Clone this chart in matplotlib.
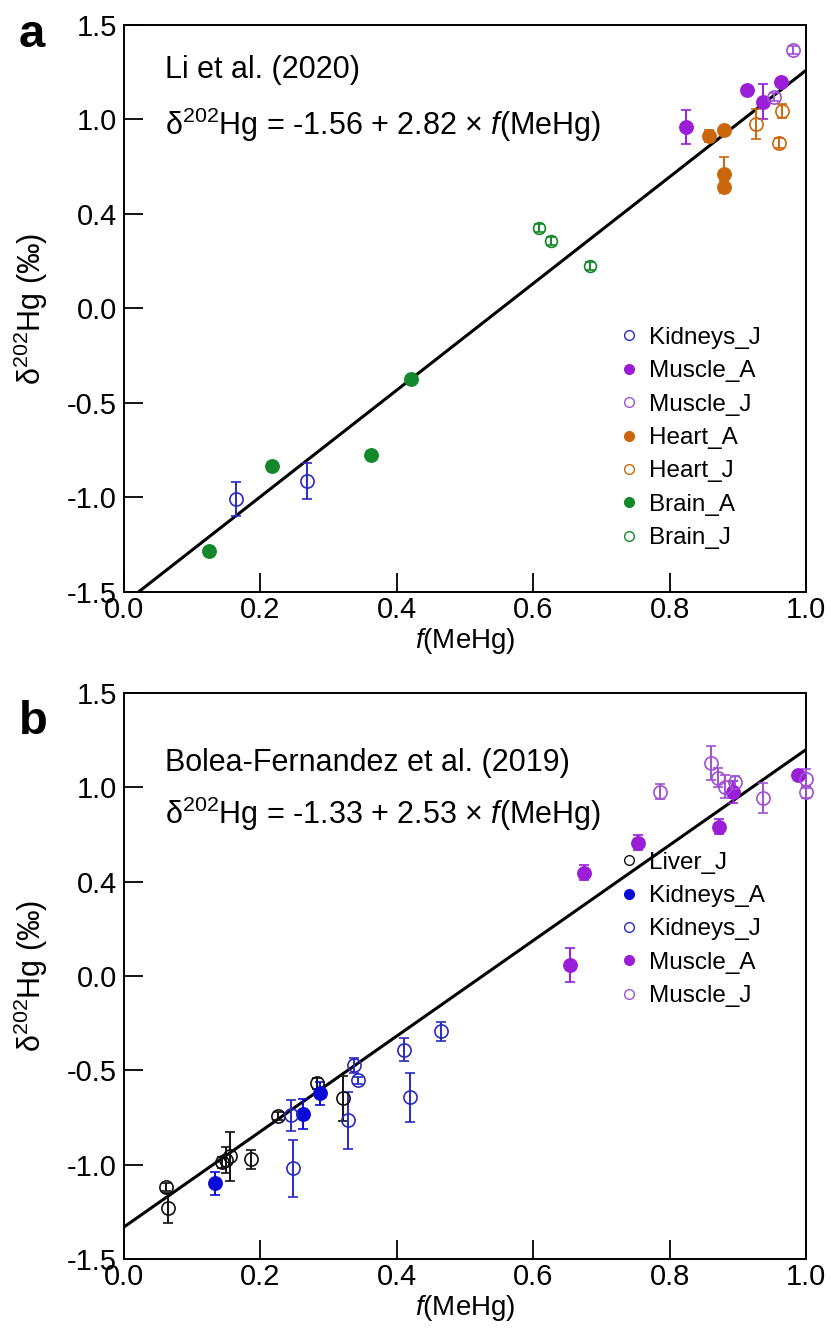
import numpy as np
import matplotlib
matplotlib.use('Agg')
import matplotlib.pyplot as plt
from matplotlib.lines import Line2D

plt.rcParams['font.family'] = ['Liberation Sans', 'DejaVu Sans']
plt.rcParams['mathtext.fontset'] = 'custom'
plt.rcParams['mathtext.rm'] = 'Liberation Sans'
plt.rcParams['mathtext.it'] = 'Liberation Sans:italic'

# y tick labels as printed on the figure
ytick_pos = [-1.5, -1.0, -0.5, 0.0, 0.5, 1.0, 1.5]
ytick_labels = ['-1.5', '-1.0', '-0.5', '0.0', '0.4', '1.0', '1.5']
xtick_pos = [0.0, 0.2, 0.4, 0.6, 0.8, 1.0]

# ---- panel a: Li et al. (2020) ----
fit_a = (-1.56, 2.82)

kidj_a_x = [0.164, 0.268]
kidj_a_y = [-1.008, -0.913]
kidj_a_e = [0.09, 0.093]

musa_a_x = [0.824, 0.913, 0.937, 0.963]
musa_a_y = [0.960, 1.156, 1.093, 1.198]
musa_a_e = [0.09, 0.0, 0.093, 0.0]

musj_a_x = [0.953, 0.981]
musj_a_y = [1.119, 1.368]
musj_a_e = [0.02, 0.02]

hearta_x = [0.858, 0.880, 0.880, 0.880]
hearta_y = [0.913, 0.944, 0.712, 0.643]
hearta_e = [0.03, 0.02, 0.09, 0.03]

heartj_x = [0.927, 0.961, 0.965]
heartj_y = [0.976, 0.876, 1.045]
heartj_e = [0.08, 0.025, 0.035]

braina_x = [0.125, 0.217, 0.362, 0.421]
braina_y = [-1.283, -0.833, -0.775, -0.373]
braina_e = [0.02, 0.02, 0.02, 0.02]

brainj_x = [0.609, 0.626, 0.683]
brainj_y = [0.426, 0.357, 0.225]
brainj_e = [0.02, 0.02, 0.02]

# ---- panel b: Bolea-Fernandez et al. (2019) ----
fit_b = (-1.33, 2.53)

liverj_x = [0.062, 0.065, 0.143, 0.150, 0.155, 0.186, 0.226, 0.283, 0.321]
liverj_y = [-1.119, -1.230, -0.987, -0.975, -0.955, -0.971, -0.743, -0.569, -0.648]
liverj_e = [0.02, 0.08, 0.03, 0.07, 0.13, 0.05, 0.02, 0.03, 0.12]

kida_b_x = [0.133, 0.262, 0.287]
kida_b_y = [-1.098, -0.733, -0.622]
kida_b_e = [0.06, 0.08, 0.06]

kidj_b_x = [0.245, 0.248, 0.328, 0.337, 0.343, 0.410, 0.419, 0.465]
kidj_b_y = [-0.739, -1.019, -0.765, -0.474, -0.553, -0.390, -0.643, -0.293]
kidj_b_e = [0.08, 0.15, 0.15, 0.04, 0.02, 0.06, 0.13, 0.05]

musa_b_x = [0.654, 0.674, 0.754, 0.872, 0.893, 0.988]
musa_b_y = [0.06, 0.548, 0.706, 0.791, 0.976, 1.066]
musa_b_e = [0.09, 0.04, 0.04, 0.04, 0.06, 0.02]

musj_b_x = [0.786, 0.861, 0.871, 0.881, 0.896, 0.937, 1.0, 1.0]
musj_b_y = [0.976, 1.130, 1.050, 1.003, 1.029, 0.944, 1.045, 0.976]
musj_b_e = [0.04, 0.09, 0.05, 0.06, 0.03, 0.08, 0.05, 0.03]

BLUE_O = '#2a2ac0'
BLUE_F = '#0a0ad8'
PURPLE_F = '#9a1ed8'
PURPLE_O = '#a050d2'
ORANGE = '#cc660a'
GREEN = '#12882a'
BLACK = '#111111'


def plot_series(ax, x, y, e, color, filled, ms=9.5):
    ax.errorbar(x, y, yerr=e, fmt='o', ms=ms, mec=color,
                mfc=color if filled else 'none', mew=1.2,
                ecolor=color, elinewidth=1.4, capsize=3.5, capthick=1.4,
                clip_on=False, zorder=3)


def style_axes(ax):
    ax.set_xlim(0, 1)
    ax.set_ylim(-1.5, 1.5)
    ax.set_xticks(xtick_pos)
    ax.set_xticklabels(['0.0', '0.2', '0.4', '0.6', '0.8', '1.0'])
    ax.set_yticks(ytick_pos)
    ax.set_yticklabels(ytick_labels)
    ax.tick_params(direction='in', length=14, width=1.3, labelsize=21, pad=5)
    ax.tick_params(axis='x', pad=3)
    for s in ax.spines.values():
        s.set_linewidth(1.4)
    ax.set_xlabel(r'$\mathit{f}$(MeHg)', fontsize=20, labelpad=1)
    ax.set_ylabel(r'δ$^{\mathregular{202}}$Hg (‰)', fontsize=22, labelpad=12)


def add_legend(ax, entries, y_top):
    handles = [Line2D([], [], ls='none', marker='o', ms=7, mew=1.0, mec=c,
                      mfc=c if f else 'none') for _, c, f in entries]
    labels = [n for n, _, _ in entries]
    ax.legend(handles, labels, loc='upper left', bbox_to_anchor=(0.716, y_top),
              frameon=False, fontsize=17.5, handlelength=0.6, handletextpad=0.5,
              labelspacing=0.47, borderaxespad=0)


fig = plt.figure(figsize=(8.31, 13.42), dpi=100)
ax_a = fig.add_axes([0.1492, 0.5589, 0.8207, 0.4225])
ax_b = fig.add_axes([0.1492, 0.0618, 0.8207, 0.4218])

xs = np.array([0.0, 1.0])

# panel a
ax_a.plot(xs, fit_a[0] + fit_a[1] * xs, color='black', lw=2.2, zorder=2)
plot_series(ax_a, kidj_a_x, kidj_a_y, kidj_a_e, BLUE_O, False)
plot_series(ax_a, musa_a_x, musa_a_y, musa_a_e, PURPLE_F, True)
plot_series(ax_a, musj_a_x, musj_a_y, musj_a_e, PURPLE_O, False)
plot_series(ax_a, hearta_x, hearta_y, hearta_e, ORANGE, True)
plot_series(ax_a, heartj_x, heartj_y, heartj_e, ORANGE, False)
plot_series(ax_a, braina_x, braina_y, braina_e, GREEN, True)
plot_series(ax_a, brainj_x, brainj_y, brainj_e, GREEN, False, ms=8.5)
style_axes(ax_a)
ax_a.text(0.06, 0.921, 'Li et al. (2020)', transform=ax_a.transAxes,
          fontsize=22, va='center')
ax_a.text(0.06, 0.824, r'δ$^{\mathregular{202}}$Hg = -1.56 + 2.82 × $\mathit{f}$(MeHg)',
          transform=ax_a.transAxes, fontsize=22, va='center')
add_legend(ax_a, [('Kidneys_J', BLUE_O, False), ('Muscle_A', PURPLE_F, True),
                  ('Muscle_J', PURPLE_O, False), ('Heart_A', ORANGE, True),
                  ('Heart_J', ORANGE, False), ('Brain_A', GREEN, True),
                  ('Brain_J', GREEN, False)], 0.485)
fig.text(0.038, 0.965, 'a', fontsize=34, fontweight='bold', ha='center', va='baseline')

# panel b
ax_b.plot(xs, fit_b[0] + fit_b[1] * xs, color='black', lw=2.2, zorder=2)
plot_series(ax_b, liverj_x, liverj_y, liverj_e, BLACK, False)
plot_series(ax_b, kida_b_x, kida_b_y, kida_b_e, BLUE_F, True)
plot_series(ax_b, kidj_b_x, kidj_b_y, kidj_b_e, BLUE_O, False)
plot_series(ax_b, musa_b_x, musa_b_y, musa_b_e, PURPLE_F, True)
plot_series(ax_b, musj_b_x, musj_b_y, musj_b_e, PURPLE_O, False)
style_axes(ax_b)
ax_b.text(0.06, 0.877, 'Bolea-Fernandez et al. (2019)', transform=ax_b.transAxes,
          fontsize=22, va='center')
ax_b.text(0.06, 0.786, r'δ$^{\mathregular{202}}$Hg = -1.33 + 2.53 × $\mathit{f}$(MeHg)',
          transform=ax_b.transAxes, fontsize=22, va='center')
add_legend(ax_b, [('Liver_J', BLACK, False), ('Kidneys_A', BLUE_F, True),
                  ('Kidneys_J', BLUE_O, False), ('Muscle_A', PURPLE_F, True),
                  ('Muscle_J', PURPLE_O, False)], 0.737)
fig.text(0.040, 0.453, 'b', fontsize=34, fontweight='bold', ha='center', va='baseline')

fig.savefig('out.png', dpi=100)
